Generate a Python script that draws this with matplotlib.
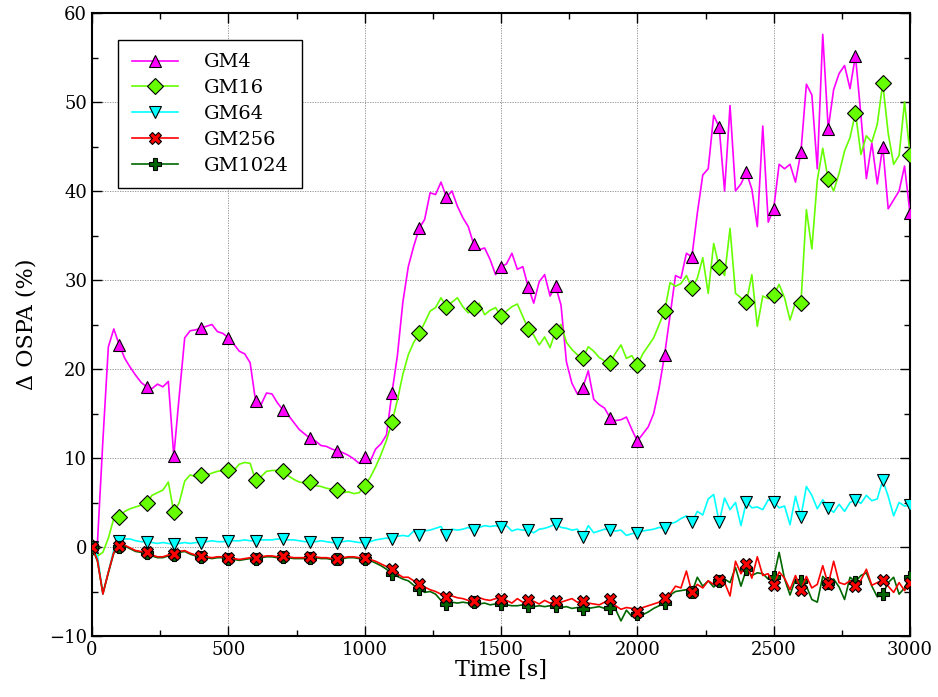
import numpy as np
import matplotlib
matplotlib.use("Agg")
import matplotlib.pyplot as plt
from matplotlib.ticker import MultipleLocator

plt.rcParams['font.family'] = ['DejaVu Serif']

# time axis: one sample every 20 s, markers every 100 s
time_s = np.arange(0, 3001, 20)

gm4 = [
    0.0, 0.5, 12.0, 22.5, 24.5,
    22.7, 21.2, 20.2, 19.3, 18.5,
    18.0, 17.8, 18.3, 18.0, 18.6,
    10.2, 17.0, 23.5, 24.3, 24.4,
    24.6, 24.8, 25.0, 24.2, 24.0,
    23.5, 22.8, 22.0, 21.7, 20.7,
    16.4, 16.0, 17.3, 17.2, 16.2,
    15.4, 14.8, 14.0, 13.2, 12.7,
    12.2, 11.9, 11.4, 11.3, 11.0,
    10.8, 10.6, 10.3, 9.9, 9.4,
    10.1, 9.6, 11.0, 11.6, 12.6,
    17.3, 21.5, 27.5, 31.5, 33.8,
    35.8, 36.8, 39.8, 39.6, 41.0,
    39.3, 40.0, 38.3, 37.0, 36.0,
    34.0, 33.4, 33.6, 32.3, 30.6,
    31.5, 31.8, 33.0, 31.2, 31.5,
    29.2, 27.4, 29.8, 30.6, 28.2,
    29.3, 27.2, 20.8, 18.4, 17.2,
    17.9, 19.8, 16.6, 16.0, 15.6,
    14.5, 14.2, 14.3, 14.6, 13.2,
    11.9, 12.7, 13.5, 15.0, 17.9,
    21.6, 26.0, 30.5, 30.2, 33.0,
    32.6, 37.5, 41.8, 42.5, 48.5,
    47.2, 40.0, 49.6, 40.0, 40.8,
    42.1, 40.2, 36.0, 47.3, 36.5,
    38.0, 43.0, 42.5, 43.0, 41.0,
    44.4, 52.0, 50.8, 42.5, 57.6,
    47.0, 51.4, 53.2, 54.1, 51.5,
    55.2, 48.5, 41.4, 45.4, 40.8,
    45.0, 38.0, 39.0, 40.0, 42.8,
    37.5,
]

gm16 = [
    0.0, -1.0, -0.6, 1.0, 3.2,
    3.4, 4.0, 4.3, 4.5, 4.7,
    4.9, 5.8, 6.1, 6.4, 7.3,
    3.9, 5.0, 7.4, 8.1, 7.9,
    8.1, 8.1, 8.3, 8.5, 8.6,
    8.7, 8.6, 9.3, 9.5, 9.4,
    7.5, 7.9, 8.5, 8.6, 8.6,
    8.5, 8.0, 7.6, 7.3, 7.2,
    7.3, 6.9, 6.8, 6.6, 6.5,
    6.4, 6.1, 6.2, 6.0, 6.1,
    6.9, 7.8, 9.0, 10.4, 12.0,
    14.0, 16.5, 19.4, 21.6, 23.0,
    24.0, 25.2, 26.5, 26.9, 28.0,
    27.0, 27.5, 28.0, 27.0, 26.3,
    26.8, 27.4, 26.1, 26.6, 26.9,
    25.9, 26.5, 27.0, 27.3, 25.9,
    24.5, 23.8, 22.7, 23.6, 22.4,
    24.3, 25.0, 23.0, 22.2, 21.6,
    21.2, 22.5, 22.0, 21.3, 20.9,
    20.7, 21.8, 22.7, 21.2, 21.5,
    20.4, 21.7, 22.6, 23.5, 25.0,
    26.5, 29.7, 29.3, 29.6, 30.5,
    29.1, 30.2, 32.5, 28.5, 34.1,
    31.5, 30.5, 35.8, 28.5, 28.0,
    27.5, 30.6, 24.8, 28.2, 27.9,
    28.3, 29.5, 28.0, 25.5, 27.5,
    27.4, 37.9, 33.5, 41.2, 44.8,
    41.3, 40.0, 42.0, 44.5, 46.0,
    48.8, 44.1, 46.2, 45.5, 47.5,
    52.1, 46.5, 43.0, 44.0, 50.0,
    44.1,
]

gm64 = [
    0.0, -1.0, -5.3, -2.8, -0.3,
    0.7, 0.9, 0.9, 0.7, 0.6,
    0.6, 0.5, 0.4, 0.5, 0.4,
    0.3, 0.4, 0.5, 0.4, 0.5,
    0.5, 0.6, 0.7, 0.6, 0.6,
    0.7, 0.7, 0.7, 0.8, 0.7,
    0.7, 0.8, 0.8, 0.8, 0.9,
    0.9, 0.8, 0.8, 0.7, 0.6,
    0.6, 0.6, 0.7, 0.6, 0.5,
    0.5, 0.6, 0.7, 0.6, 0.5,
    0.5, 0.6, 0.8, 0.9, 1.0,
    0.9, 1.2, 1.3, 1.2, 1.8,
    1.3, 1.8, 1.9, 2.1, 2.3,
    1.3, 2.0, 1.9, 2.0, 2.2,
    1.9, 2.2, 2.4, 2.3, 2.4,
    2.2, 2.4, 1.8, 2.0, 1.9,
    1.9, 1.6, 2.0, 2.1, 2.3,
    2.6, 2.2, 2.1, 1.9, 2.0,
    1.1, 2.4, 1.6, 1.8, 2.0,
    1.9, 1.8, 1.9, 1.3, 1.5,
    1.6, 1.8, 1.9, 2.0, 2.2,
    2.1, 2.6, 2.8, 3.2, 3.5,
    2.8, 4.0, 3.6, 5.4, 5.9,
    2.8, 5.5, 4.2, 5.0, 2.4,
    5.1, 4.4, 4.5, 4.2, 5.3,
    5.1, 4.4, 4.6, 2.5, 5.7,
    3.4, 6.8, 5.8, 4.3, 5.3,
    4.4, 3.9, 4.8, 4.0, 5.0,
    5.3, 4.9, 5.8, 5.2, 5.4,
    7.5, 5.7, 3.5, 5.0, 4.6,
    4.7,
]

gm256 = [
    0.0, -1.5, -5.3, -2.8, -0.6,
    0.1, 0.2, -0.1, -0.4, -0.5,
    -0.6, -0.9, -1.1, -1.1, -0.9,
    -0.8, -0.5, -0.4, -0.7, -0.9,
    -1.0, -1.1, -1.2, -1.1, -1.1,
    -1.2, -1.3, -1.4, -1.3, -1.2,
    -1.2, -1.1, -1.0, -1.0, -1.1,
    -1.0, -1.1, -1.2, -1.2, -1.2,
    -1.1, -1.1, -1.2, -1.2, -1.3,
    -1.3, -1.2, -1.1, -1.1, -1.2,
    -1.2, -1.4, -1.6, -1.9, -2.2,
    -2.5, -3.0, -3.4, -3.4, -3.8,
    -4.2, -4.5, -4.8, -5.0, -5.3,
    -5.6, -5.5, -5.7, -5.8, -6.0,
    -6.1, -5.7, -5.9, -6.0, -5.8,
    -5.8, -6.0, -6.3, -5.8, -6.2,
    -6.0, -6.1, -6.4, -6.0, -6.3,
    -6.1, -6.2, -6.0, -5.8, -6.2,
    -6.1, -6.3, -6.4, -6.5, -6.2,
    -5.8, -6.6, -7.0, -6.8, -6.9,
    -7.3, -6.8, -6.6, -6.4, -6.2,
    -5.7, -5.3, -4.4, -4.6, -2.7,
    -5.1, -4.2, -4.6, -3.8, -4.2,
    -3.7, -4.0, -5.5, -1.6, -3.0,
    -1.9, -3.5, -1.1, -3.2, -3.0,
    -4.3, -2.8, -3.5, -4.8, -3.2,
    -4.8, -3.3, -4.6, -4.2, -2.1,
    -4.2, -1.6, -4.0, -4.2, -3.8,
    -4.4, -3.7, -2.5, -4.3, -4.0,
    -3.7, -4.4, -5.1, -4.0, -4.9,
    -4.0,
]

gm1024 = [
    0.0, -1.6, -5.2, -2.9, -0.7,
    0.0, 0.1, -0.2, -0.5, -0.6,
    -0.7, -1.0, -1.2, -1.2, -1.0,
    -0.9, -0.6, -0.5, -0.8, -1.0,
    -1.1, -1.2, -1.3, -1.2, -1.2,
    -1.3, -1.4, -1.5, -1.4, -1.3,
    -1.3, -1.2, -1.1, -1.1, -1.2,
    -1.1, -1.2, -1.3, -1.3, -1.3,
    -1.2, -1.2, -1.3, -1.3, -1.4,
    -1.4, -1.3, -1.2, -1.2, -1.3,
    -1.3, -1.5, -1.8, -2.1, -2.5,
    -3.0, -3.3, -3.6, -3.8, -4.3,
    -4.7, -5.1, -5.0, -5.3, -6.0,
    -6.4, -6.2, -6.3, -6.2, -6.3,
    -6.2, -6.4, -6.3, -6.5, -6.4,
    -6.4, -6.5, -6.6, -6.6, -6.5,
    -6.6, -6.7, -6.6, -6.7, -6.6,
    -6.6, -6.8, -6.7, -6.9, -6.8,
    -7.0, -6.9, -6.8, -6.7, -6.9,
    -6.8, -7.0, -8.3, -7.1, -7.8,
    -7.5, -7.6, -7.3, -6.9, -6.6,
    -6.3, -5.4, -5.0, -4.9, -4.8,
    -5.1, -3.4, -4.4, -3.8, -4.5,
    -3.8, -3.6, -4.0, -2.3, -4.4,
    -2.5, -3.2, -2.9, -3.0, -3.6,
    -3.4, -0.6, -3.6, -5.4, -3.6,
    -3.8, -4.4, -5.9, -6.2, -3.3,
    -4.0, -3.6, -4.5, -5.9, -3.4,
    -3.9, -3.2, -2.9, -4.4, -5.6,
    -5.3, -4.0, -3.4, -5.3, -4.6,
    -3.4,
]

series = [
    ("GM4", gm4, "#ff00ff", "^", 9, 3),
    ("GM16", gm16, "#66ff00", "D", 8, 3),
    ("GM64", gm64, "#00ffff", "v", 8, 3),
    ("GM256", gm256, "#ff0000", "X", 9, 5),
    ("GM1024", gm1024, "#006600", "P", 9, 4),
]

fig = plt.figure(figsize=(9.38, 6.97), dpi=100)
ax = fig.add_axes([92 / 938, 1 - 636 / 697, 818 / 938, 623 / 697])

for name, vals, col, mk, ms, z in series:
    ax.plot(time_s, vals, color=col, lw=1.2, marker=mk, markersize=ms,
            markevery=5, markerfacecolor=col, markeredgecolor="black",
            markeredgewidth=0.8, label=name, zorder=z)

ax.set_xlim(0, 3000)
ax.set_ylim(-10, 60)
ax.xaxis.set_major_locator(MultipleLocator(500))
ax.xaxis.set_minor_locator(MultipleLocator(250))
ax.yaxis.set_major_locator(MultipleLocator(10))
ax.yaxis.set_minor_locator(MultipleLocator(5))
ax.tick_params(which="both", direction="in", top=True, right=True,
               labelsize=13, width=1.0)
ax.tick_params(which="major", length=7)
ax.tick_params(which="minor", length=4)
ax.grid(True, which="major", color="#888888", linestyle=(0, (1.5, 1.5)),
        linewidth=0.6)
for sp in ax.spines.values():
    sp.set_linewidth(1.5)

ax.set_xlabel("Time [s]", fontsize=16, labelpad=0)
ax.set_ylabel("Δ OSPA (%)", fontsize=16, labelpad=8)

leg = ax.legend(loc="upper left", bbox_to_anchor=(0.032, 0.957),
                borderaxespad=0, fontsize=14, handlelength=2.4,
                handletextpad=1.3, labelspacing=0.4, borderpad=0.7,
                fancybox=False, framealpha=1, edgecolor="black")
leg.get_frame().set_linewidth(1.0)

fig.savefig("out.png", dpi=100)
